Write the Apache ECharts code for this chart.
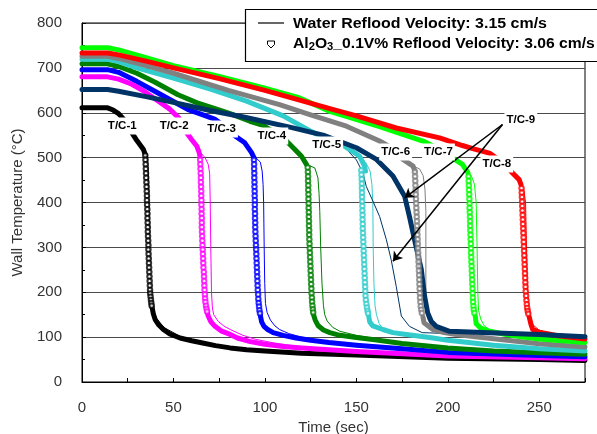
<!DOCTYPE html>
<html><head><meta charset="utf-8">
<script src="https://cdn.jsdelivr.net/npm/echarts@6/dist/echarts.min.js"></script>
<style>html,body{margin:0;padding:0;background:#fff}#c{width:597px;height:434px}</style>
</head><body><div id="c"></div><script>
// ---------- DATA (time s, wall temperature °C) ----------
const tcNames = ['T/C-1','T/C-2','T/C-3','T/C-4','T/C-5','T/C-6','T/C-7','T/C-8','T/C-9'];
const tcColors = ['#000000','#FF00FF','#0000FF','#008000','#33CCCC','#808080','#00FF00','#FF0000','#003366'];
const xTicks = [0,50,100,150,200,250];
const yTicks = [0,100,200,300,400,500,600,700,800];

// T/C-1
const tc1Upper = [[0,611],[14,611],[17,606],[20,598],[24,580],[27.3,555],[30,538],[33.6,518],[34.5,508]];
const tc1Circles = [[34.6,505],[34.7,495],[34.8,485],[34.9,475],[35.0,465],[35.1,455],[35.2,445],[35.3,435],[35.4,425],[35.5,415],[35.5,405],[35.6,395],[35.7,385],[35.8,375],[35.8,365],[35.9,355],[36.0,345],[36.0,335],[36.1,325],[36.2,315],[36.3,305],[36.3,295],[36.4,285],[36.5,275],[36.6,265],[36.7,255],[36.8,245],[36.9,235],[37.0,225],[37.1,215],[37.2,205],[37.3,197],[37.5,190],[37.7,183],[37.9,176],[38.1,170]];
const tc1Tail = [[38.2,169],[39,152],[40,139],[42,127],[44.5,117],[48,107],[53.6,98],[60,92],[66,87],[73,81],[81,76],[90,72],[100,69],[120,64],[150,60],[200,53],[250,50],[275,48]];
const tc1Water = [[0,611],[14,611],[17,606],[20,598],[24,580],[27.3,555],[30,538],[34,518],[35.8,505],[36.4,450],[36.6,400],[36.9,300],[37.5,220],[38.1,182],[39,160],[41,140],[45,121],[54,101],[66,88],[81,77],[100,70],[150,61],[200,54],[250,51],[275,49]];

// T/C-2
const tc2Upper = [[0,680],[14,680],[20,675],[27,664],[34,648],[41,628],[48,608],[53,588],[57.3,555],[60,540],[62.7,526],[64,512],[64.5,503]];
const tc2Circles = [[64.6,495],[64.7,485],[64.8,475],[64.9,465],[65.0,455],[65.0,445],[65.1,435],[65.2,425],[65.2,415],[65.3,405],[65.3,395],[65.4,385],[65.4,375],[65.5,365],[65.5,355],[65.5,345],[65.6,335],[65.7,325],[65.8,315],[65.9,305],[66.0,295],[66.1,285],[66.2,275],[66.3,265],[66.4,255],[66.6,245],[66.7,235],[66.8,225],[66.9,215],[67.0,205],[67.2,195],[67.3,186],[67.5,178],[67.8,170],[68.1,163],[68.4,157]];
const tc2Tail = [[68.5,155],[69,147],[70.5,134],[72.7,124],[76,114],[81,106],[85,98],[92,90],[100,84],[110,79],[120,76],[150,68],[200,58],[250,54],[275,52]];
const tc2Water = [[0,680],[14,680],[20,675],[27,664],[34,648],[41,628],[48,608],[53,588],[57.3,555],[60,540],[62.7,526],[65,510],[67.3,500],[69,485],[69.8,465],[70.1,400],[70.4,300],[70.8,200],[71.3,165],[72,150],[74.5,135],[77.5,125],[81,117],[88,104],[95,95],[105,87],[120,78],[150,69],[200,59],[250,55],[275,53]];

// T/C-3
const tc3Upper = [[0,696],[14,696],[20,690],[30,670],[39.8,648],[50,625],[58,607],[65,597],[72.5,586],[78,570],[82.7,551],[89,533],[92.7,511],[94,500]];
const tc3Circles = [[94.0,495],[94.1,485],[94.1,475],[94.2,465],[94.2,455],[94.3,445],[94.3,435],[94.4,425],[94.4,415],[94.5,405],[94.5,395],[94.5,385],[94.6,375],[94.6,365],[94.7,355],[94.7,345],[94.8,335],[94.9,325],[95.0,315],[95.1,305],[95.2,295],[95.3,285],[95.4,275],[95.5,265],[95.6,255],[95.7,245],[95.8,235],[95.9,225],[96.0,215],[96.1,205],[96.3,195],[96.4,185],[96.6,176],[96.8,168],[97.0,160],[97.3,153]];
const tc3Tail = [[97.5,148],[98.2,134],[99.5,124],[101.5,117],[104.5,110],[110,104],[117,98],[125,93],[135,88],[150,82],[175,74],[200,66],[250,59],[275,56]];
const tc3Water = [[0,696],[14,696],[20,690],[30,670],[39.8,648],[50,625],[58,607],[65,597],[72.5,586],[78,570],[82.7,551],[89,533],[92.7,511],[95,500],[97.5,490],[98.5,470],[99,440],[99.3,400],[99.6,300],[99.9,220],[100.3,175],[101.2,155],[103,138],[105.5,125],[108,117],[113,108],[120,100],[130,93],[150,83],[175,75],[200,67],[250,60],[275,57]];

// T/C-4
const tc4Upper = [[0,709],[14,709],[20,703],[30,688],[40,668],[52.5,640],[63,622],[74.4,607],[81,598],[91.8,581],[99,572],[105,557],[111.8,537],[116,520],[120,503],[122.7,485]];
const tc4Circles = [[123.4,478],[123.5,468],[123.6,458],[123.6,448],[123.7,438],[123.7,428],[123.8,418],[123.8,408],[123.9,398],[123.9,388],[124.0,378],[124.0,368],[124.1,358],[124.1,348],[124.2,338],[124.2,328],[124.3,318],[124.4,308],[124.5,298],[124.6,288],[124.7,278],[124.8,268],[124.9,258],[125.0,248],[125.1,238],[125.2,228],[125.3,218],[125.4,208],[125.5,198],[125.7,188],[125.8,179],[126.0,170],[126.2,162],[126.4,155]];
const tc4Tail = [[126.6,150],[127.5,138],[129,126],[132,116],[135.5,110],[141,104],[150,99],[160,94],[175,86],[200,76],[225,69],[250,65],[275,62]];
const tc4Water = [[0,709],[14,709],[20,703],[30,688],[40,668],[52.5,640],[63,622],[74.4,607],[81,598],[91.8,581],[99,572],[105,557],[111.8,537],[116,520],[120,503],[122.7,485],[127.3,477],[129,455],[129.6,420],[130,380],[130.5,300],[131.2,220],[132,170],[132.7,150],[134,136],[137,122],[141,113],[150,104],[160,97],[175,88],[200,77],[250,66],[275,63]];

// T/C-5
const tc5Upper = [[0,719],[14,719],[20,714],[30,700],[50,677],[70.7,652],[90,626],[110,593],[124.5,560],[132,545],[142.7,528],[151.8,503],[154.5,481],[155,470]];
const tc5Circles = [[152.7,472],[152.8,462],[152.9,452],[153.0,442],[153.0,432],[153.1,422],[153.1,412],[153.2,402],[153.3,392],[153.3,382],[153.4,372],[153.4,362],[153.5,352],[153.5,342],[153.6,332],[153.7,322],[153.8,312],[153.9,302],[154.0,292],[154.1,282],[154.2,272],[154.3,262],[154.4,252],[154.5,242],[154.6,232],[154.7,222],[154.8,212],[154.9,202],[155.0,192],[155.2,183],[155.5,174],[155.8,166],[156.1,159],[156.4,153]];
const tc5Tail = [[156.7,148],[157.3,134],[159,125],[164.5,117],[170,110],[177.3,106],[190,99],[200,93],[225,82],[250,74],[275,69]];
const tc5Water = [[0,719],[14,719],[20,714],[30,700],[50,677],[70.7,652],[90,626],[110,593],[124.5,560],[132,545],[142.7,528],[151.8,503],[155,490],[157.5,470],[158.5,440],[159,400],[159.2,300],[159.6,220],[160.2,170],[161,150],[162.5,130],[164.5,119],[170,111],[180,105],[200,94],[250,75],[275,70]];

// T/C-6
const tc6Upper = [[0,726],[14,726],[20,721],[35,705],[50,688],[80,650],[108,618],[125,595],[144.6,570],[162.7,537],[168,525],[175.5,496],[181,481],[182,470]];
const tc6Circles = [[182.0,468],[182.1,458],[182.2,448],[182.3,438],[182.4,428],[182.5,418],[182.6,408],[182.7,398],[182.8,388],[182.9,378],[183.0,368],[183.1,358],[183.2,348],[183.3,338],[183.4,328],[183.5,318],[183.6,308],[183.7,298],[183.8,288],[183.9,278],[184.0,268],[184.1,258],[184.2,248],[184.3,238],[184.4,228],[184.5,218],[184.6,208],[184.7,198],[184.8,188],[185.0,178],[185.2,169],[185.5,161],[185.8,154]];
const tc6Tail = [[186.4,145],[187,132],[191.8,117],[198,110],[204.6,106],[215,101],[230,94],[250,85],[275,78]];
const tc6Water = [[0,726],[14,726],[20,721],[35,705],[50,688],[80,650],[108,618],[125,595],[144.6,570],[162.7,537],[168,525],[175.5,496],[181,481],[184.5,475],[186.5,460],[187.5,430],[188,380],[188,300],[188,220],[188.2,160],[189,140],[191,125],[195.5,112],[205,106],[230,95],[250,86],[275,79]];

// T/C-7
const tc7Upper = [[0,745],[14,745],[20,740],[35,723],[50,705],[75,681],[100,655],[119,633],[135.5,603],[162.7,569],[186.4,537],[195,520],[202.7,499],[208,485],[211,466]];
const tc7Circles = [[211.3,458],[211.4,448],[211.5,438],[211.6,428],[211.7,418],[211.8,408],[211.9,398],[211.9,388],[212.0,378],[212.1,368],[212.2,358],[212.2,348],[212.3,338],[212.4,328],[212.5,318],[212.6,308],[212.7,298],[212.7,288],[212.8,278],[212.9,268],[213.0,258],[213.1,248],[213.2,238],[213.3,228],[213.4,218],[213.5,208],[213.6,198],[213.7,188],[213.8,178],[214.0,169],[214.2,161],[214.5,154]];
const tc7Tail = [[215,147],[215.5,130],[218,120],[222.7,113],[231.8,106],[240,101],[250,96],[275,88]];
const tc7Water = [[0,745],[14,745],[20,740],[35,723],[50,705],[75,681],[100,655],[119,633],[135.5,603],[162.7,569],[186.4,537],[195,520],[202.7,499],[208,485],[211,466],[213,458],[214.6,440],[215.5,400],[216,300],[216.4,200],[216.8,160],[218,140],[220,125],[222.7,117],[231.8,110],[245,101],[275,89]];

// T/C-8
const tc8Upper = [[0,733],[14,733],[20,729],[35,715],[50,700],[75,676],[100,650],[119,628],[135.5,609],[150,593],[171.8,566],[195.5,544],[208,527],[213.6,520],[222.7,510],[228,495],[233.6,473],[239,451],[240,440]];
const tc8Circles = [[240.3,432],[240.4,422],[240.5,412],[240.6,402],[240.7,392],[240.8,382],[240.9,372],[241.0,362],[241.1,352],[241.2,342],[241.3,332],[241.4,322],[241.5,312],[241.6,302],[241.7,292],[241.8,282],[241.9,272],[242.0,262],[242.1,252],[242.2,242],[242.3,232],[242.4,222],[242.5,212],[242.6,202],[242.8,192],[243.0,182],[243.2,173],[243.4,165],[243.7,158],[244.0,152]];
const tc8Tail = [[244.5,145],[245.5,128],[246.4,117],[250,111],[253.7,108],[260,103],[275,96]];
const tc8Water = [[0,733],[14,733],[20,729],[35,715],[50,700],[75,676],[100,650],[119,628],[135.5,609],[150,593],[171.8,566],[195.5,544],[208,527],[213.6,520],[222.7,510],[228,495],[233.6,473],[239,451],[240,440],[241.5,430],[242.5,400],[243,300],[243.4,220],[244,170],[245,150],[246.4,128],[250,115],[260,105],[275,97]];

// T/C-9
const tc9Upper = [[0,652],[14,652],[20,648],[35,636],[52.5,621],[70,605],[89,590],[113.6,568],[131.8,550],[150,522],[161,496],[170,459],[176.4,414],[179,369],[181.8,317],[185.5,251],[187.3,191],[189,154],[191,135],[193.6,124],[201,113],[222.8,110],[250,106],[275,101]];
const tc9Circles = [];
const tc9Tail = [];
const tc9Water = [[0,652],[14,652],[20,648],[35,636],[52.5,621],[70,605],[89,590],[113.6,568],[131.8,550],[142,530],[150,495],[153.6,466],[155.4,436],[158.5,408],[162.7,369],[166.4,317],[169,273],[171.8,213],[174.6,147],[179,124],[186,110],[200,108],[222.8,109],[250,105],[275,100]];

// annotation anchors (data coordinates)
const labelAnchors = [[22.0,570.5],[50.4,570.5],[76.3,563.8],[103.8,548.2],[133.8,528.2],[171.5,512.6],[194.9,512.6],[226.8,485.9],[239.9,583.9]];
const arrowStart = [229.9,573.8];
const arrowEnds = [[176.4,410.4],[170.0,269.2]];

// ---------- CHART ----------
const uppers = [tc1Upper,tc2Upper,tc3Upper,tc4Upper,tc5Upper,tc6Upper,tc7Upper,tc8Upper,tc9Upper];
const circles = [tc1Circles,tc2Circles,tc3Circles,tc4Circles,tc5Circles,tc6Circles,tc7Circles,tc8Circles,tc9Circles];
const tails = [tc1Tail,tc2Tail,tc3Tail,tc4Tail,tc5Tail,tc6Tail,tc7Tail,tc8Tail,tc9Tail];
const waters = [tc1Water,tc2Water,tc3Water,tc4Water,tc5Water,tc6Water,tc7Water,tc8Water,tc9Water];

const FONT = '"Liberation Sans", Arial, sans-serif';
const series = [];
for (let i = 0; i < 9; i++) {
  const c = tcColors[i];
  series.push({type:'line', name: tcNames[i]+' water', data: waters[i], showSymbol:false, silent:true,
    lineStyle:{color:c, width:1}, z:2});
  const up = {type:'line', name: tcNames[i]+' Al2O3', data: uppers[i], showSymbol:false, silent:true,
    lineStyle:{color:c, width:5, cap:'round', join:'round'}, z:3};
  if (i === 8) {
    up.markLine = {silent:true, symbol:['none','arrow'], symbolSize:9, animation:false,
      label:{show:false}, lineStyle:{color:'#000', width:1.5, type:'solid'},
      data: arrowEnds.map(e => [{coord: arrowStart}, {coord: e}])};
  }
  series.push(up);
  if (circles[i].length) series.push({type:'scatter', data: circles[i], symbol:'emptyCircle', symbolSize:4.5, silent:true,
    itemStyle:{color:c, borderColor:c, borderWidth:1}, z:3});
  if (tails[i].length) series.push({type:'line', data: tails[i], showSymbol:false, silent:true,
    lineStyle:{color:c, width:5, cap:'round', join:'round'}, z:3});
}

const chart = echarts.init(document.getElementById('c'), null, {renderer:'canvas'});
chart.setOption({
  animation:false,
  backgroundColor:'#fff',
  grid:{left:82, right:12, top:23, bottom:52, outerBoundsMode:'none', containLabel:false,
    show:true, borderColor:'#000', borderWidth:1, backgroundColor:'transparent'},
  xAxis:{type:'value', min:0, max:275, interval:25,
    name:'Time (sec)', nameLocation:'middle', nameGap:36, nameTextStyle:{fontFamily:FONT, fontSize:15, color:'#333'},
    axisLine:{lineStyle:{color:'#000', width:1}},
    axisTick:{inside:true, length:4, lineStyle:{color:'#000'}},
    splitLine:{show:false},
    axisLabel:{margin:18, fontFamily:FONT, fontSize:15, color:'#333',
      formatter: v => xTicks.indexOf(v) >= 0 ? String(v) : ''}},
  yAxis:{type:'value', min:0, max:800, interval:100,
    name:'Wall Temperature (\u00B0C)', nameLocation:'middle', nameGap:57, nameTextStyle:{fontFamily:FONT, fontSize:15, color:'#333'},
    axisLine:{lineStyle:{color:'#000', width:1}},
    axisTick:{inside:true, length:4, lineStyle:{color:'#000'}},
    minorTick:{show:true, splitNumber:2, length:3, lineStyle:{color:'#000'}},
    splitLine:{show:true, lineStyle:{color:'#4a4a4a', width:1}},
    axisLabel:{margin:20, fontFamily:FONT, fontSize:15, color:'#333',
      formatter: v => yTicks.indexOf(v) >= 0 ? String(v) : ''}},
  series: series
});

const graphics = [];
labelAnchors.forEach((a, i) => {
  const p = chart.convertToPixel({gridIndex:0}, a);
  graphics.push({type:'text', x:p[0], y:p[1], z:100, silent:true,
    style:{text: tcNames[i], font:'bold 11.5px ' + FONT, fill:'#000', align:'center', verticalAlign:'middle',
      backgroundColor:'#fff', padding:[3,2,2,2]}});
});
// legend box
graphics.push({type:'rect', shape:{x:245.5, y:9.5, width:360, height:52}, z:100, silent:true,
  style:{fill:'#fff', stroke:'#000', lineWidth:1.2}});
graphics.push({type:'line', shape:{x1:258, y1:23, x2:284, y2:23}, z:101, silent:true,
  style:{stroke:'#000', lineWidth:1.2}});
graphics.push({type:'text', x:293, y:24, scaleX:1.14, z:101, silent:true,
  style:{text:'Water Reflood Velocity: 3.15 cm/s', font:'bold 14px ' + FONT, fill:'#000', verticalAlign:'middle'}});
graphics.push({type:'polygon', z:101, silent:true,
  shape:{points:[[267.5,41],[274.5,41],[274.5,44.5],[271,48],[267.5,44.5]]},
  style:{fill:'#fff', stroke:'#000', lineWidth:1}});
graphics.push({type:'text', x:293, y:44, scaleX:1.12, z:101, silent:true,
  style:{text:'Al{s|2}O{s|3}_0.1V% Reflood Velocity: 3.06 cm/s', font:'bold 14px ' + FONT, fill:'#000', verticalAlign:'middle',
    rich:{s:{font:'bold 10px ' + FONT, fill:'#000', padding:[7,0,0,0]}}}});
chart.setOption({graphic: graphics});
</script></body></html>
